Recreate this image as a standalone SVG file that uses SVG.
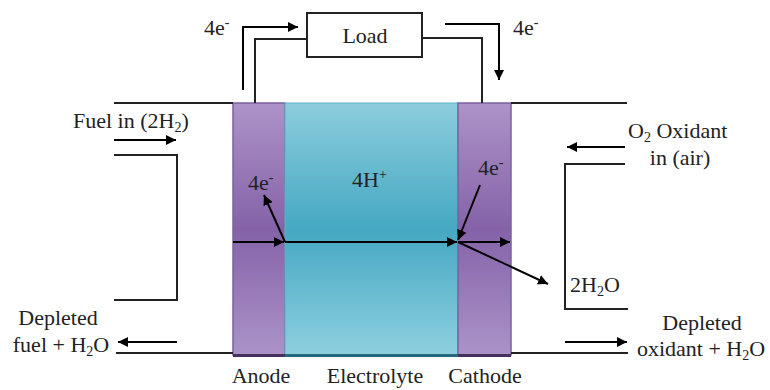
<svg xmlns="http://www.w3.org/2000/svg" width="770" height="390" viewBox="0 0 770 390">
<defs>
<linearGradient id="purp" x1="0" y1="0" x2="0" y2="1">
<stop offset="0" stop-color="#ad93c8"/>
<stop offset="0.5" stop-color="#8562a8"/>
<stop offset="1" stop-color="#ab93c8"/>
</linearGradient>
<linearGradient id="cyan" x1="0" y1="0" x2="0" y2="1">
<stop offset="0" stop-color="#8ccddd"/>
<stop offset="0.5" stop-color="#45a8c2"/>
<stop offset="1" stop-color="#8dcfdf"/>
</linearGradient>
<marker id="ah" viewBox="0 0 10 10" refX="10" refY="5" markerWidth="10" markerHeight="10" markerUnits="userSpaceOnUse" orient="auto">
<path d="M0,0 L10,5 L0,10 Z" fill="#000"/>
</marker>
</defs>
<style>
.t{font-family:'Liberation Serif','DejaVu Serif',serif;font-size:22px;fill:#222}
.sub{font-size:14px}
.sup{font-size:14px}
.ln{fill:none;stroke:#222;stroke-width:2}
.ar{fill:none;stroke:#000;stroke-width:2;marker-end:url(#ah)}
.pe{stroke:#7a62a0;stroke-width:1.5}
</style>
<rect width="770" height="390" fill="#fff"/>

<g id="anode">
<rect class="pe" x="233" y="103" width="52" height="252" fill="url(#purp)"/>
</g>
<g id="electrolyte">
<rect x="285" y="103" width="173" height="252" fill="url(#cyan)" stroke="#5ab4c8" stroke-width="1"/>
</g>
<g id="cathode">
<rect class="pe" x="458" y="103" width="53" height="252" fill="url(#purp)"/>
</g>
<line x1="233" y1="355.5" x2="285" y2="355.5" stroke="#45305e" stroke-width="3"/>
<line x1="285" y1="355.5" x2="458" y2="355.5" stroke="#26687c" stroke-width="3"/>
<line x1="458" y1="355.5" x2="511" y2="355.5" stroke="#45305e" stroke-width="3"/>

<g id="load">
<rect x="307" y="13" width="115" height="44" fill="#fff" stroke="#222" stroke-width="2"/>
<text class="t" x="365" y="43" text-anchor="middle">Load</text>
</g>

<g id="connectors">
<line class="ln" x1="114" y1="103" x2="233" y2="103"/>
<line class="ln" x1="511" y1="103" x2="627" y2="103"/>
<line class="ln" x1="116" y1="353" x2="233" y2="353"/>
<line class="ln" x1="511" y1="353" x2="628" y2="353"/>
<polyline class="ln" points="255,103 255,39 307,39"/>
<polyline class="ln" points="422,38 482,38 482,103"/>
<polyline class="ar" points="243,90 243,27 298,27"/>
<polyline class="ar" points="445,24 499,24 499,80"/>
<line class="ar" x1="114" y1="140" x2="176" y2="140"/>
<polyline class="ln" points="114,155 177,155 177,300 114,300"/>
<line class="ar" x1="177" y1="342" x2="118" y2="342"/>
<line class="ar" x1="625" y1="147" x2="567" y2="147"/>
<polyline class="ln" points="625,164 565,164 565,309 628,309"/>
<line class="ar" x1="565" y1="342" x2="627" y2="342"/>
<line class="ar" x1="233" y1="242" x2="284" y2="242"/>
<line class="ar" x1="285" y1="242" x2="264" y2="195"/>
<line class="ar" x1="285" y1="242" x2="457" y2="242"/>
<line class="ar" x1="480" y1="185" x2="458" y2="240"/>
<line class="ar" x1="458" y1="242" x2="510" y2="242"/>
<line class="ar" x1="458" y1="242" x2="548" y2="284"/>
</g>

<g id="labels">
<text class="t" x="204" y="35">4e<tspan class="sup" dy="-8">-</tspan></text>
<text class="t" x="513" y="35">4e<tspan class="sup" dy="-8">-</tspan></text>
<text class="t" x="73" y="128">Fuel in (2H<tspan class="sub" dy="4">2</tspan><tspan dy="-4">)</tspan></text>
<text class="t" x="248" y="190">4e<tspan class="sup" dy="-8">-</tspan></text>
<text class="t" x="352" y="187">4H<tspan class="sup" dy="-8">+</tspan></text>
<text class="t" x="478" y="175">4e<tspan class="sup" dy="-8">-</tspan></text>
<text class="t" x="628" y="138">O<tspan class="sub" dy="4">2</tspan><tspan dy="-4"> Oxidant</tspan></text>
<text class="t" x="680" y="165" text-anchor="middle">in (air)</text>
<text class="t" x="570" y="292">2H<tspan class="sub" dy="4">2</tspan><tspan dy="-4">O</tspan></text>
<text class="t" x="58" y="325" text-anchor="middle">Depleted</text>
<text class="t" x="61" y="352" text-anchor="middle">fuel + H<tspan class="sub" dy="4">2</tspan><tspan dy="-4">O</tspan></text>
<text class="t" x="702" y="330" text-anchor="middle">Depleted</text>
<text class="t" x="701" y="356" text-anchor="middle">oxidant + H<tspan class="sub" dy="4">2</tspan><tspan dy="-4">O</tspan></text>
<text class="t" x="261" y="383" text-anchor="middle">Anode</text>
<text class="t" x="375" y="383" text-anchor="middle">Electrolyte</text>
<text class="t" x="485" y="383" text-anchor="middle">Cathode</text>
</g>
</svg>
